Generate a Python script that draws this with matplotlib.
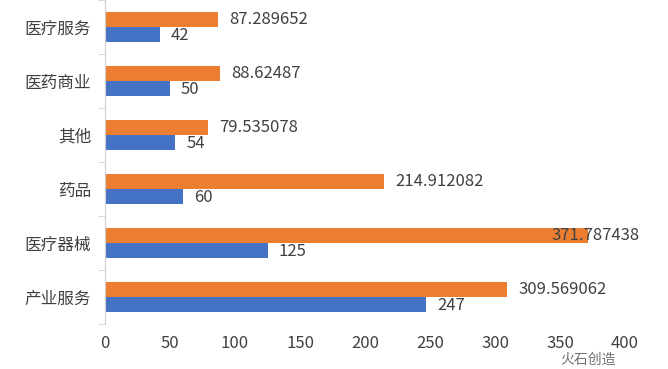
import matplotlib.pyplot as plt
import numpy as np

plt.rcParams['font.family'] = ['Noto Sans CJK SC', 'DejaVu Sans']

# Kategorien von oben nach unten
categories = ["医疗服务", "医药商业", "其他", "药品", "医疗器械", "产业服务"]
orange_vals = [87.289652, 88.62487, 79.535078, 214.912082, 371.787438, 309.569062]
blue_vals = [42, 50, 54, 60, 125, 247]
xticks = [0, 50, 100, 150, 200, 250, 300, 350, 400]

c_orange = "#ED7D31"
c_blue = "#4472C4"
c_text = "#404040"

fig = plt.figure(figsize=(6.68, 3.69), dpi=100)
ax = fig.add_axes([105 / 668, 45 / 369, 520 / 668, 324 / 369])

y = np.arange(len(categories))
h = 0.27
ax.barh(y - h / 2, orange_vals, height=h, color=c_orange)
ax.barh(y + h / 2, blue_vals, height=h, color=c_blue)

for yi, v in zip(y, orange_vals):
    if v + 8 > 340:
        # zu lang -> rechtsbündig am Rand, überlappt den Balken wie im Original
        ax.text(411, yi - h / 2, str(v), va="center", ha="right",
                fontsize=12, color=c_text, clip_on=False)
    else:
        ax.text(v + 8.5, yi - h / 2, str(v), va="center", ha="left",
                fontsize=12, color=c_text)
for yi, v in zip(y, blue_vals):
    ax.text(v + 8.5, yi + h / 2 + 0.03, str(v), va="center", ha="left",
            fontsize=12, color=c_text)

ax.set_ylim(len(categories) - 0.5, -0.5)
ax.set_xlim(0, 400)
ax.set_yticks(y)
ax.set_yticklabels(categories, fontsize=12, color=c_text)
ax.set_yticks(np.arange(len(categories) + 1) - 0.5, minor=True)
ax.tick_params(axis="y", which="major", length=0, pad=10)
ax.tick_params(axis="y", which="minor", length=5, color="#d0d0d0")
ax.set_xticks(xticks)
ax.set_xticklabels([str(t) for t in xticks], fontsize=12, color=c_text)
ax.tick_params(axis="x", length=0, pad=8)

for s in ["top", "right", "bottom"]:
    ax.spines[s].set_visible(False)
ax.spines["left"].set_color("#d0d0d0")

# Wasserzeichen-Text unten rechts
fig.text(0.88, 0.025, "火石创造", fontsize=10, color="#707070", ha="center", va="center")

fig.savefig("out.png", dpi=100)
